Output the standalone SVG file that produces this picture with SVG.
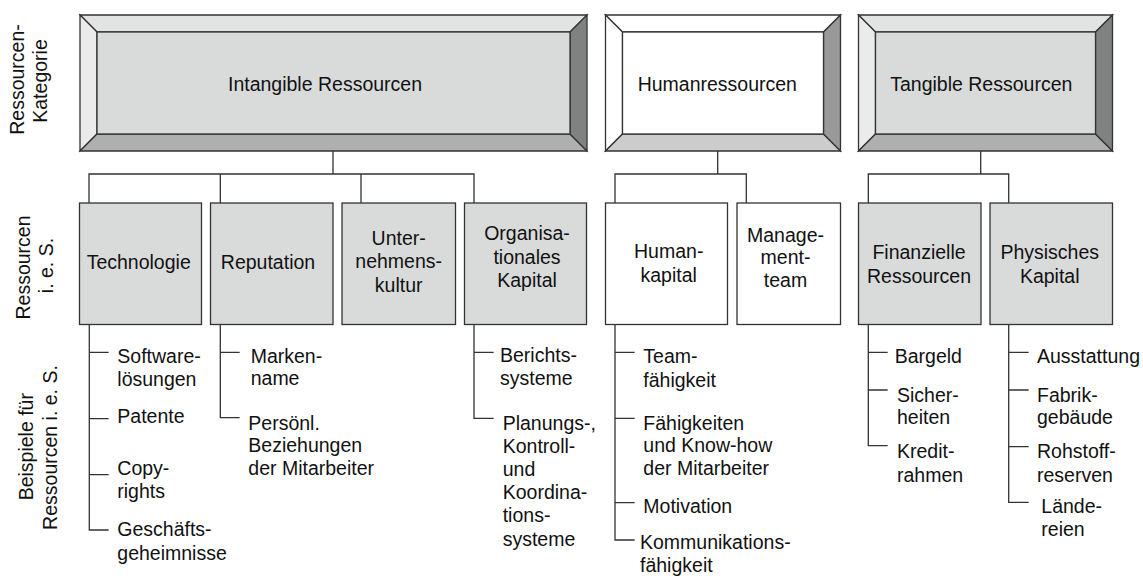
<svg xmlns="http://www.w3.org/2000/svg" width="1143" height="576" viewBox="0 0 1143 576">
<style>
text{font-family:"Liberation Sans",Arial,Helvetica,sans-serif;font-size:19.5px;fill:#111}
.m{text-anchor:middle}
.ln{stroke:#333;stroke-width:1.3;fill:none;stroke-linecap:square}
.bx{stroke:#333;stroke-width:1.3;stroke-linejoin:miter}
.g{fill:#d9dbdb}
.w{fill:#ffffff}
.gt{fill:#e2e4e4}
.gl{fill:#ebebeb}
.gb{fill:#afafaf}
.gr{fill:#808281}
.wt{fill:#ffffff}
.wb{fill:#cccccc}
.wr{fill:#999999}
</style>
<rect width="1143" height="576" fill="#ffffff"/>

<g id="axis-labels">
<text class="m" transform="translate(24,79.5) rotate(-90)">Ressourcen-</text>
<text class="m" transform="translate(47.3,81) rotate(-90)">Kategorie</text>
<text class="m" transform="translate(29.5,267.5) rotate(-90)">Ressourcen</text>
<text class="m" transform="translate(53.3,265.5) rotate(-90)">i. e. S.</text>
<text class="m" transform="translate(32.5,446.7) rotate(-90)">Beispiele für</text>
<text class="m" transform="translate(56.7,447.5) rotate(-90)">Ressourcen i. e. S.</text>
</g>

<g id="connectors">
<path class="ln" d="M333,151V174M89,174H474M89,174V203M220.3,174V203M361,174V203M474,174V203"/>
<path class="ln" d="M717.7,151V174M615,174H746.3M615,174V203M746.3,174V203"/>
<path class="ln" d="M980.7,151V174M868.3,174H1008.7M868.3,174V203M1008.7,174V203"/>
<path class="ln" d="M89.3,324.5V530M89.3,352.3H108M89.3,418.7H108M89.3,474.7H108M89.3,530H108"/>
<path class="ln" d="M220.3,324.5V417.7M220.3,352.3H239M220.3,417.7H239"/>
<path class="ln" d="M474,324.5V418.3M474,352.3H493M474,418.3H493"/>
<path class="ln" d="M615,324.5V540M615,352.3H634M615,418.3H634M615,502.7H634M615,540H634"/>
<path class="ln" d="M868.3,324.5V445.7M868.3,352.3H887M868.3,390H887M868.3,445.7H887"/>
<path class="ln" d="M1008.7,324.5V502.3M1008.7,352.3H1028M1008.7,390H1028M1008.7,446.7H1028M1008.7,502.3H1028"/>
</g>

<g id="intangible">
<polygon class="bx gt" points="80,15 587,15 570,32 97,32"/>
<polygon class="bx gl" points="80,15 97,32 97,134 80,151"/>
<polygon class="bx gb" points="80,151 97,134 570,134 587,151"/>
<polygon class="bx gr" points="587,15 587,151 570,134 570,32"/>
<rect class="bx g" x="97" y="32" width="473" height="102"/>
<text x="325" y="90.7" class="m">Intangible Ressourcen</text>
</g>

<g id="human">
<polygon class="bx wt" points="605.5,15 840.5,15 823.5,32 622.5,32"/>
<polygon class="bx wt" points="605.5,15 622.5,32 622.5,134 605.5,151"/>
<polygon class="bx wb" points="605.5,151 622.5,134 823.5,134 840.5,151"/>
<polygon class="bx wr" points="840.5,15 840.5,151 823.5,134 823.5,32"/>
<rect class="bx w" x="622.5" y="32" width="201" height="102"/>
<text x="717.3" y="90.7" class="m">Humanressourcen</text>
</g>

<g id="tangible">
<polygon class="bx gt" points="858.5,15 1112.5,15 1095.5,32 875.5,32"/>
<polygon class="bx gl" points="858.5,15 875.5,32 875.5,134 858.5,151"/>
<polygon class="bx gb" points="858.5,151 875.5,134 1095.5,134 1112.5,151"/>
<polygon class="bx gr" points="1112.5,15 1112.5,151 1095.5,134 1095.5,32"/>
<rect class="bx g" x="875.5" y="32" width="220" height="102"/>
<text x="981.3" y="90.7" class="m">Tangible Ressourcen</text>
</g>

<g id="technologie">
<rect class="bx g" x="79.5" y="203" width="122" height="121.5"/>
<text x="138.7" y="268.5" class="m">Technologie</text>
</g>
<g id="reputation">
<rect class="bx g" x="210.5" y="203" width="122.5" height="121.5"/>
<text x="268" y="268.5" class="m">Reputation</text>
</g>
<g id="unternehmenskultur">
<rect class="bx g" x="342" y="203" width="113.5" height="121.5"/>
<text x="398.7" y="245" class="m">Unter-</text>
<text x="398.7" y="268.3" class="m">nehmens-</text>
<text x="398.7" y="291.7" class="m">kultur</text>
</g>
<g id="organisationales-kapital">
<rect class="bx g" x="464.5" y="203" width="122" height="121.5"/>
<text x="527" y="240" class="m">Organisa-</text>
<text x="527" y="264" class="m">tionales</text>
<text x="527" y="286.7" class="m">Kapital</text>
</g>
<g id="humankapital">
<rect class="bx w" x="605.5" y="203" width="122" height="121.5"/>
<text x="668.7" y="258.3" class="m">Human-</text>
<text x="668.7" y="281.7" class="m">kapital</text>
</g>
<g id="managementteam">
<rect class="bx w" x="737" y="203" width="103.5" height="121.5"/>
<text x="785.5" y="241.7" class="m">Manage-</text>
<text x="785.5" y="263.5" class="m">ment-</text>
<text x="785.5" y="286.7" class="m">team</text>
</g>
<g id="finanzielle-ressourcen">
<rect class="bx g" x="858.5" y="203" width="122.5" height="121.5"/>
<text x="919" y="259.3" class="m">Finanzielle</text>
<text x="919" y="282.7" class="m">Ressourcen</text>
</g>
<g id="physisches-kapital">
<rect class="bx g" x="990" y="203" width="122.5" height="121.5"/>
<text x="1049.7" y="259.3" class="m">Physisches</text>
<text x="1049.7" y="282.7" class="m">Kapital</text>
</g>

<g id="examples-technologie">
<text x="117.3" y="362.7">Software-</text>
<text x="117.3" y="385.7">lösungen</text>
<text x="117.3" y="423.3">Patente</text>
<text x="117.3" y="475">Copy-</text>
<text x="117.3" y="497.7">rights</text>
<text x="117.3" y="536">Geschäfts-</text>
<text x="117.3" y="559.5">geheimnisse</text>
</g>
<g id="examples-reputation">
<text x="250.7" y="362.7">Marken-</text>
<text x="250.7" y="385.3">name</text>
<text x="248.3" y="430">Persönl.</text>
<text x="248.3" y="452.3">Beziehungen</text>
<text x="248.3" y="475">der Mitarbeiter</text>
</g>
<g id="examples-organisation">
<text x="500" y="361.7">Berichts-</text>
<text x="500" y="385">systeme</text>
<text x="502.7" y="430">Planungs-,</text>
<text x="502.7" y="452.7">Kontroll-</text>
<text x="502.7" y="476">und</text>
<text x="502.7" y="499.3">Koordina-</text>
<text x="502.7" y="522">tions-</text>
<text x="502.7" y="545.7">systeme</text>
</g>
<g id="examples-humankapital">
<text x="643.3" y="363.3">Team-</text>
<text x="643.3" y="386.7">fähigkeit</text>
<text x="643.3" y="430">Fähigkeiten</text>
<text x="643.3" y="452.3">und Know-how</text>
<text x="643.3" y="475">der Mitarbeiter</text>
<text x="643.3" y="513.3">Motivation</text>
<text x="640" y="548.5">Kommunikations-</text>
<text x="640" y="571.5">fähigkeit</text>
</g>
<g id="examples-finanzen">
<text x="894.7" y="363.3">Bargeld</text>
<text x="897" y="401.7">Sicher-</text>
<text x="897" y="424.3">heiten</text>
<text x="897" y="458.3">Kredit-</text>
<text x="897" y="481.7">rahmen</text>
</g>
<g id="examples-physisch">
<text x="1037" y="363.3">Ausstattung</text>
<text x="1037" y="401.7">Fabrik-</text>
<text x="1037" y="424.3">gebäude</text>
<text x="1037" y="458.3">Rohstoff-</text>
<text x="1037" y="481.7">reserven</text>
<text x="1041.3" y="513.3">Lände-</text>
<text x="1041.3" y="535.5">reien</text>
</g>
</svg>
